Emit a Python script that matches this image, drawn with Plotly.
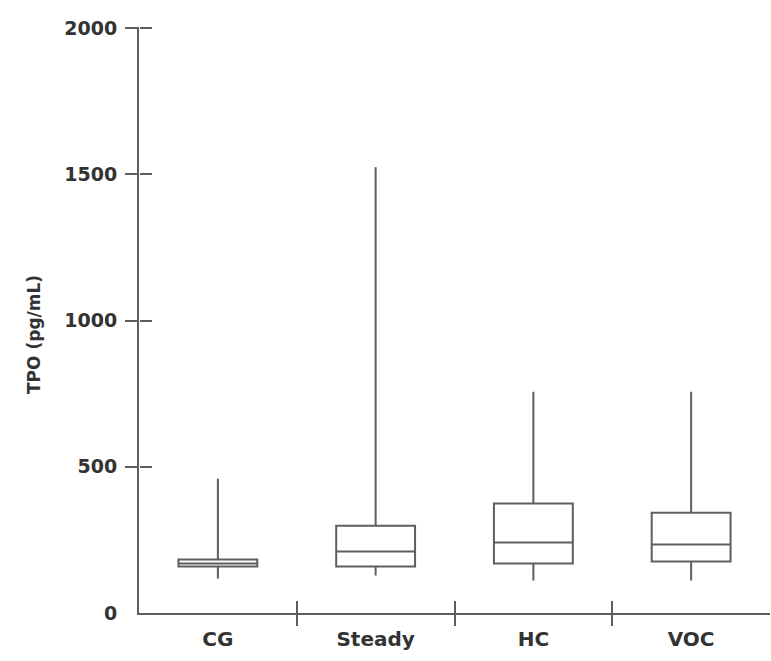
import plotly.graph_objects as go

categories = ["CG", "Steady", "HC", "VOC"]
q1 = [159, 159, 169, 176]
median = [169, 210, 241, 234]
q3 = [183, 298, 374, 343]
lower = [118, 128, 111, 111]
upper = [459, 1524, 756, 756]
y_ticks = [0, 500, 1000, 1500, 2000]
y_tick_marks = [500, 1000, 1500, 2000]
x_dividers = [0.5, 1.5, 2.5]

LINE = "#5e5e5e"
TEXT = "#333333"
FONT = "DejaVu Sans, Verdana, sans-serif"

fig = go.Figure()
fig.add_trace(go.Box(
    x=[0, 1, 2, 3], q1=q1, median=median, q3=q3,
    lowerfence=lower, upperfence=upper,
    fillcolor="white", line=dict(color=LINE, width=2),
    whiskerwidth=0, width=0.5, boxpoints=False, showlegend=False,
    hoverinfo="skip",
))
# helper (invisible) traces carrying the tick-only overlay axes
fig.add_trace(go.Scatter(x=[None], y=[None], xaxis="x2", yaxis="y2",
                         showlegend=False, hoverinfo="skip"))
fig.add_trace(go.Scatter(x=[None], y=[None], xaxis="x3", yaxis="y3",
                         showlegend=False, hoverinfo="skip"))

tick_font = dict(family=FONT, size=19, color=TEXT, weight="bold")
xtick_font = dict(family=FONT, size=20, color=TEXT, weight="bold")

tick_only = dict(showticklabels=False, showgrid=False, zeroline=False,
                 showline=False, tickwidth=2, tickcolor=LINE)

fig.update_layout(
    width=771, height=661,
    margin=dict(l=139, r=1, t=27.5, b=47.5),
    plot_bgcolor="white", paper_bgcolor="white",
    font=dict(family=FONT, size=19, color=TEXT),
    xaxis=dict(
        range=[-0.5, 3.5], tickvals=[0, 1, 2, 3], ticktext=categories,
        showline=True, linecolor=LINE, linewidth=2,
        ticks="", ticklabelstandoff=7,
        showgrid=False, zeroline=False, tickfont=xtick_font,
    ),
    yaxis=dict(
        range=[0, 2000], tickvals=y_ticks,
        showline=True, linecolor=LINE, linewidth=2,
        ticks="", ticklabelstandoff=16,
        showgrid=False, zeroline=False, tickfont=tick_font,
    ),
    # downward halves of the category divider ticks
    xaxis2=dict(overlaying="x", range=[-0.5, 3.5], tickvals=x_dividers,
                ticks="outside", ticklen=12, anchor="free", position=0,
                side="bottom", **tick_only),
    # upward halves of the category divider ticks
    xaxis3=dict(overlaying="x", range=[-0.5, 3.5], tickvals=x_dividers,
                ticks="outside", ticklen=12, anchor="free", position=0,
                side="top", **tick_only),
    # leftward halves of the y ticks
    yaxis2=dict(overlaying="y", range=[0, 2000], tickvals=y_tick_marks,
                ticks="outside", ticklen=14, anchor="free", position=0,
                side="left", **tick_only),
    # rightward halves of the y ticks
    yaxis3=dict(overlaying="y", range=[0, 2000], tickvals=y_tick_marks,
                ticks="outside", ticklen=12, anchor="free", position=0,
                side="right", **tick_only),
    annotations=[dict(
        text="TPO (pg/mL)", textangle=-90, showarrow=False,
        xref="paper", yref="paper", x=-105 / 631, y=(613.5 - 335) / 586,
        xanchor="center", yanchor="middle",
        font=dict(family=FONT, size=17, color=TEXT, weight="bold"),
    )],
)

fig.write_html("out.html")
